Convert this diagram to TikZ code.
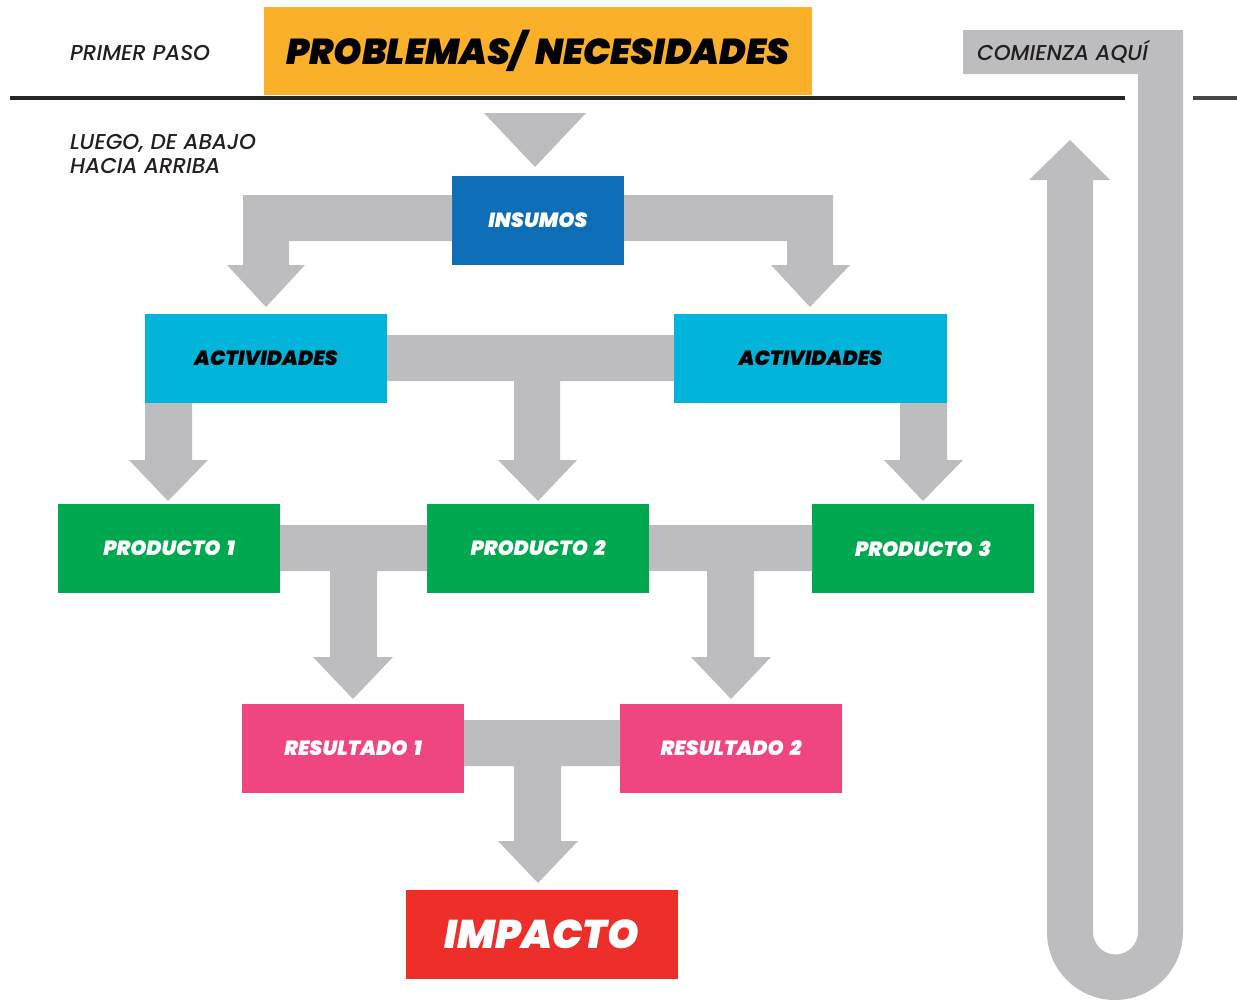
\documentclass[tikz,border=0pt]{standalone}
\usepackage{fontspec}
\newfontfamily\popheavy{Poppins Black Italic}[WordSpace=1.7]
\newfontfamily\popmed{Poppins Medium Italic}
\definecolor{cOrange}{HTML}{FBB02A}
\definecolor{cBlue}{HTML}{0E6DB7}
\definecolor{cCyan}{HTML}{00B5D9}
\definecolor{cGreen}{HTML}{00A84F}
\definecolor{cPink}{HTML}{EF4681}
\definecolor{cRed}{HTML}{EE2E29}
\definecolor{cGrey}{HTML}{BDBDBF}
\definecolor{cDark}{HTML}{222829}
\definecolor{cText}{HTML}{231F20}
\tikzset{
  box/.style={anchor=north west, inner sep=0pt, outer sep=0pt, align=center,
    font=\popheavy\fontsize{20.5}{22}\selectfont},
  fat/.style={fill=cGrey, draw=none},
  note/.style={anchor=west, inner sep=0pt, text=cText, align=left,
    font=\popmed\fontsize{21.5}{24}\selectfont},
}
\begin{document}
\begin{tikzpicture}[x=1pt,y=-1pt]
\useasboundingbox (0,0) rectangle (1237,999);
% rules
\draw[cDark, line width=3.5pt] (10,98) -- (1125,98);
\draw[cDark!85, line width=3.5pt] (1193,98) -- (1237,98);
% U-turn arrow
\fill[fat] (963,30) -- (1183,30) -- (1183,932) arc (0:180:68) -- (1047,180) -- (1029,180) -- (1070,140) -- (1110,180) -- (1093,180) -- (1093,932) arc (180:0:22.5) -- (1138,74) -- (963,74) -- cycle;
% boxes
\node[box, fill=cOrange, minimum width=548pt, minimum height=88pt, font=\popheavy\fontsize{36}{40}\selectfont, text=black] (prob) at (264,7) {PROBLEMAS/ NECESIDADES};
\node[box, fill=cBlue, minimum width=172pt, minimum height=89pt, text=white] (ins) at (452,176) {INSUMOS};
\node[box, fill=cCyan, minimum width=242pt, minimum height=89pt, text=black] (act1) at (145,314) {ACTIVIDADES};
\node[box, fill=cCyan, minimum width=273pt, minimum height=89pt, text=black] (act2) at (674,314) {ACTIVIDADES};
\node[box, fill=cGreen, minimum width=222pt, minimum height=89pt, text=white] (p1) at (58,504) {PRODUCTO 1};
\node[box, fill=cGreen, minimum width=222pt, minimum height=89pt, text=white] (p2) at (427,504) {PRODUCTO 2};
\node[box, fill=cGreen, minimum width=222pt, minimum height=89pt, text=white] (p3) at (812,504) {PRODUCTO 3};
\node[box, fill=cPink, minimum width=222pt, minimum height=89pt, text=white] (r1) at (242,704) {RESULTADO 1};
\node[box, fill=cPink, minimum width=222pt, minimum height=89pt, text=white] (r2) at (620,704) {RESULTADO 2};
\node[box, fill=cRed, minimum width=272pt, minimum height=89pt, text=white, font=\popheavy\fontsize{40}{44}\selectfont] (imp) at (406,890) {IMPACTO};
% fat connectors
\fill[fat] (535,113) -- (586,113) -- (535,167) -- (484,113) -- cycle;
\fill[fat] (ins.west |- 0,195) -- (243,195) -- (243,265) -- (227,265) -- (266,307) -- (305,265) -- (289,265) -- (289,241) -- (ins.west |- 0,241) -- cycle;
\fill[fat] (ins.east |- 0,195) -- (833,195) -- (833,265) -- (850,265) -- (810,307) -- (771,265) -- (787,265) -- (787,241) -- (ins.east |- 0,241) -- cycle;
\fill[fat] (act1.east |- 0,335) -- (act2.west |- 0,335) -- (act2.west |- 0,381) -- (560,381) -- (560,460) -- (577,460) -- (538,501) -- (498,460) -- (514,460) -- (514,381) -- (act1.east |- 0,381) -- cycle;
\fill[fat] (act1.south west) -- (192,403) -- (192,460) -- (208,460) -- (168,501) -- (129,460) -- (145,460) -- cycle;
\fill[fat] (act2.south east) -- (900,403) -- (900,460) -- (884,460) -- (923,501) -- (963,460) -- (947,460) -- cycle;
\fill[fat] (p1.east |- 0,525) -- (p2.west |- 0,525) -- (p2.west |- 0,571) -- (377,571) -- (377,657) -- (393,657) -- (353,699) -- (313,657) -- (330,657) -- (330,571) -- (p1.east |- 0,571) -- cycle;
\fill[fat] (p2.east |- 0,525) -- (p3.west |- 0,525) -- (p3.west |- 0,571) -- (754,571) -- (754,657) -- (771,657) -- (731,699) -- (691,657) -- (707,657) -- (707,571) -- (p2.east |- 0,571) -- cycle;
\fill[fat] (r1.east |- 0,720) -- (r2.west |- 0,720) -- (r2.west |- 0,766) -- (561,766) -- (561,841) -- (578,841) -- (538,883) -- (498,841) -- (514,841) -- (514,766) -- (r1.east |- 0,766) -- cycle;
% notes
\node[note] (primer) at (70,53.5) {PRIMER PASO};
\node[note, anchor=north west] (luego) at (70,134) {LUEGO, DE ABAJO\\HACIA ARRIBA};
\node[note] (comienza) at (977,52) {COMIENZA AQUÍ};
\end{tikzpicture}
\end{document}
